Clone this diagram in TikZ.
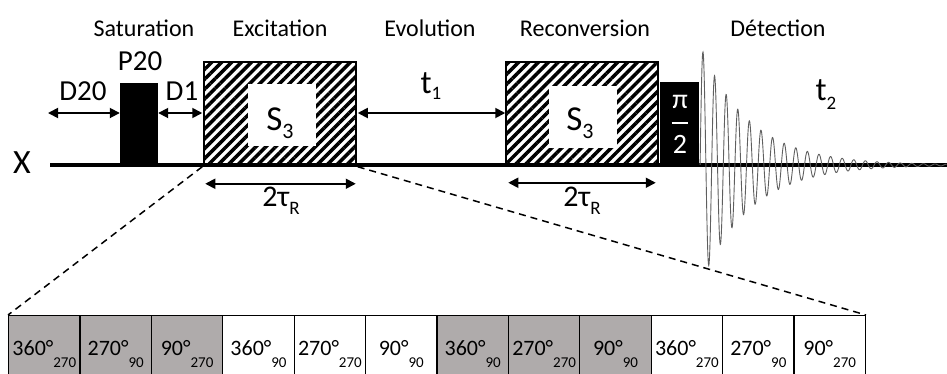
\documentclass[tikz,border=0pt]{standalone}
\usepackage{fontspec}
\setmainfont{Carlito}
\usepackage{xcolor}
\usetikzlibrary{arrows.meta}
\usetikzlibrary{patterns.meta}

\definecolor{cellgray}{RGB}{175,171,171}
\definecolor{fidgray}{RGB}{95,95,95}
\newcommand{\lowsub}[3]{\raisebox{-#1}{\fontsize{#2}{#2}\selectfont #3}}

\begin{document}
\begin{tikzpicture}[x=1pt, y=-1pt,
    head/.style={font=\fontsize{24}{26}\selectfont, inner sep=0pt, anchor=base},
    lbl/.style={font=\fontsize{29}{31}\selectfont, inner sep=0pt, anchor=base},
    dimarrow/.style={line width=1.8pt, {Triangle[length=10pt,width=10pt]}-{Triangle[length=10pt,width=10pt]}},
    pulse/.style={fill=black, draw=none, inner sep=0pt},
    hatchbox/.style={draw=black, line width=1.5pt, minimum width=152pt, minimum height=103pt, inner sep=0pt,
        pattern={Lines[angle=45, distance=7pt, line width=3.5pt]}},
    hole/.style={fill=white, minimum width=68pt, minimum height=62pt, inner sep=0pt},
    cell/.style={draw=black, line width=1.2pt, minimum width=71.4pt, minimum height=77pt, inner sep=0pt,
        anchor=north west, text height=15pt, text depth=12pt, font=\fontsize{22}{24}\selectfont}]
    \useasboundingbox (0,0) rectangle (947,373);

    % Phase headings
    \foreach \x/\name in {144/Saturation, 280/Excitation, 430/Evolution, 585/Reconversion, 778/Détection} {
        \node[head] (h-\name) at (\x,36) {\name};
    }

    % Channel line
    \node[font=\fontsize{34}{36}\selectfont, inner sep=0pt, anchor=base] (chan) at (22,173) {X};
    \coordinate (lstart) at (50,165);
    \coordinate (lend) at (947,165);
    \draw[line width=4.5pt] (lstart) -- (lend);

    % Pulses and blocks
    \node[pulse, minimum width=38pt, minimum height=82pt] (p20) at (139,124) {};
    \node[hatchbox] (exc) at (280,113.5) {};
    \node[hole] (exc-in) at (282,115) {};
    \node[hatchbox] (rec) at (582,113.5) {};
    \node[hole] (rec-in) at (582.5,117) {};
    \node[pulse, minimum width=39pt, minimum height=83pt] (pi2) at (679.5,123.5) {};

    % Labels on the blocks
    \node[font=\fontsize{35}{37}\selectfont, inner sep=0pt, anchor=base] (s3a) at (280,130) {S\lowsub{8pt}{22}{3}};
    \node[font=\fontsize{35}{37}\selectfont, inner sep=0pt, anchor=base] (s3b) at (580,130) {S\lowsub{8pt}{22}{3}};
    \node[font=\fontsize{28}{30}\selectfont, text=white, inner sep=0pt, anchor=base] (pinum) at (680,108) {π};
    \node[font=\fontsize{28}{30}\selectfont, text=white, inner sep=0pt, anchor=base] (piden) at (680,153) {2};
    \draw[white, line width=2pt] ([xshift=-8pt]pi2.center |- 0,123) -- ([xshift=8pt]pi2.center |- 0,123);

    % Delays
    \coordinate (d20end) at (48,113);
    \draw[dimarrow] (d20end) -- (p20.west |- d20end);
    \draw[dimarrow] (p20.east |- d20end) -- (exc.west |- d20end);
    \draw[dimarrow] (exc.east |- d20end) -- (rec.west |- d20end);
    \node[lbl] (d20) at (83,100) {D20};
    \node[lbl] (p20lbl) at (140,70) {P20};
    \node[lbl] (d1) at (182,100) {D1};
    \node[font=\fontsize{33}{35}\selectfont, inner sep=0pt, anchor=base] (t1) at (431,93) {t\lowsub{6pt}{19}{1}};

    % Rotor periods
    \draw[dimarrow] ([shift={(3,17)}]exc.south west) -- ([shift={(-2,17)}]exc.south east);
    \draw[dimarrow] ([shift={(3,17)}]rec.south west) -- ([shift={(-3,17)}]rec.south east);
    \node[font=\fontsize{30}{32}\selectfont, inner sep=0pt, anchor=base] (tra) at (281,206) {2τ\lowsub{8pt}{19}{R}};
    \node[font=\fontsize{30}{32}\selectfont, inner sep=0pt, anchor=base] (trb) at (582,206) {2τ\lowsub{8pt}{19}{R}};

    % Free induction decay
    \draw[fidgray, line width=0.9pt] plot[domain=-2.9:244, samples=1200]
        ({703+\x}, {165 - 113*exp(-0.0203*\x)*cos(31.03*\x)});
    \node[font=\fontsize{33}{35}\selectfont, inner sep=0pt, anchor=base] (t2) at (826,100) {t\lowsub{9pt}{19}{2}};

    % Supercycle of the S3 block
    \foreach \i/\a/\b/\c in {0/360/270/cellgray, 1/270/90/cellgray, 2/90/270/cellgray,
                             3/360/90/white, 4/270/270/white, 5/90/90/white,
                             6/360/90/cellgray, 7/270/270/cellgray, 8/90/90/cellgray,
                             9/360/270/white, 10/270/90/white, 11/90/270/white} {
        \node[cell, fill=\c] (c\i) at ({8+71.4*\i},315) {\a°\lowsub{12pt}{15}{\b}};
    }
    \draw[line width=1.5pt, dash pattern=on 7pt off 5pt] (exc.south west) -- (c0.north west);
    \draw[line width=1.5pt, dash pattern=on 7pt off 5pt] (exc.south east) -- (c11.north east);
\end{tikzpicture}
\end{document}
